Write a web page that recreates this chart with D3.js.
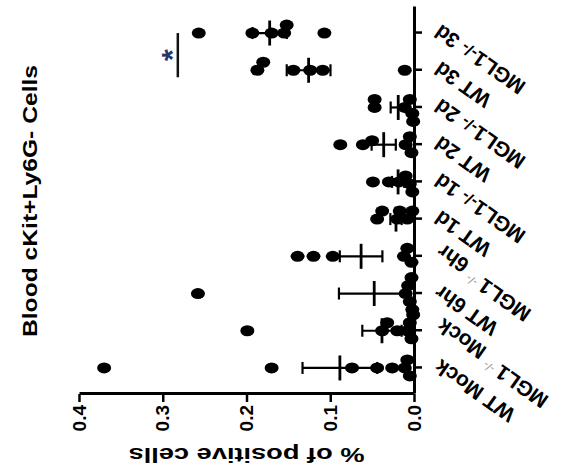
<!DOCTYPE html>
<html><head><meta charset="utf-8">
<script src="https://cdn.jsdelivr.net/npm/d3@7"></script>
<style>html,body{margin:0;padding:0;background:#fff}svg{display:block}</style>
</head><body><svg id="c" width="561" height="468"></svg>
<script>
// ---- data ----
const title = "Blood cKit+Ly6G- Cells";
const yTitle = "% of positive cells";
const categories = ["WT Mock","MGL1-/- Mock","WT 6hr","MGL1-/- 6hr","WT 1d","MGL1-/- 1d","WT 2d","MGL1-/- 2d","WT 3d","MGL1-/- 3d"];
const valueTicks = [0, 0.1, 0.2, 0.3, 0.4];
const wtMock  = [0.370, 0.170, 0.074, 0.044, 0.026, 0.011, 0.008, 0.005];
const mglMock = [0.199, 0.038, 0.032, 0.020, 0.008, 0.005, 0.003, 0.001];
const wt6hr   = [0.258, 0.010, 0.007, 0.005, 0.003, 0.002];
const mgl6hr  = [0.139, 0.120, 0.097, 0.012, 0.008, 0.003];
const wt1d    = [0.044, 0.038, 0.020, 0.017, 0.008, 0.002];
const mgl1d   = [0.049, 0.030, 0.018, 0.010, 0.005, 0.002];
const wt2d    = [0.088, 0.061, 0.050, 0.010, 0.005, 0.003];
const mgl2d   = [0.047, 0.047, 0.011, 0.005, 0.002, 0.001];
const wt3d    = [0.187, 0.180, 0.144, 0.124, 0.109, 0.011];
const mgl3d   = [0.257, 0.193, 0.170, 0.155, 0.152, 0.107];
const groups = [wtMock, mglMock, wt6hr, mgl6hr, wt1d, mgl1d, wt2d, mgl2d, wt3d, mgl3d];
const sigPair = ["WT 3d", "MGL1-/- 3d"];
const sigLevel = 0.282;
const sigMark = "*";

// ---- layout (drawn in un-rotated frame, then rotated -90deg) ----
const FONT = "'Liberation Sans', Arial, sans-serif";
const svg = d3.select("#c");
const g = svg.append("g").attr("transform", `translate(0,${468}) rotate(-90)`);

const x = d3.scalePoint().domain(categories).range([74, 461]).padding(0.7);
const y = d3.scaleLinear().domain([0, 0.4]).range([414, 79]);

// axes
const yAxis = g.append("g").attr("transform", "translate(74,0)")
  .call(d3.axisLeft(y).tickValues(valueTicks).tickFormat(d3.format(".1f")).tickSize(8).tickSizeOuter(0).tickPadding(3));
const xAxis = g.append("g").attr("transform", "translate(0,414)")
  .call(d3.axisBottom(x).tickSize(8).tickSizeOuter(0).tickFormat(""));
[yAxis, xAxis].forEach(a => {
  a.select(".domain").attr("stroke", "#000").attr("stroke-width", 3);
  a.selectAll(".tick line").attr("stroke", "#000").attr("stroke-width", 2.5);
});
yAxis.selectAll(".tick text").attr("font-family", FONT).attr("font-weight", "bold")
  .attr("font-size", 19).attr("fill", "#000");

// category labels
xAxis.selectAll(".tick").each(function(d) {
  const t = d3.select(this).append("text")
    .attr("transform", "translate(3,23) rotate(-55)")
    .attr("text-anchor", "end").attr("dy", "0.35em")
    .attr("font-family", FONT).attr("font-weight", "bold").attr("font-size", 21).attr("fill", "#000");
  const parts = d.split("-/-");
  if (parts.length === 2) {
    const small = /Mock|6hr/.test(parts[1]);
    t.append("tspan").text(parts[0]);
    if (small) {
      t.append("tspan").text(" -/-").attr("font-size", 12).attr("fill", "#9a9a9a").attr("font-weight", "normal").attr("dy", "-0.5em");
      t.append("tspan").text(parts[1]).attr("dy", "0.5em");
    } else {
      t.append("tspan").text("-/-").attr("font-size", 17);
      t.append("tspan").text(parts[1]);
    }
  } else {
    t.text(d);
  }
});

// dots (simple deterministic swarm)
const RX = 5.5, RY = 7;
function swarm(vals, cx) {
  const placed = [];
  const order = vals.map(v => v).sort((a, b) => b - a);
  order.forEach(v => {
    const cy = y(v);
    let off = 0;
    for (let k = 0; k < 60; k++) {
      const cand = k === 0 ? 0 : (k % 2 ? 1 : -1) * Math.ceil(k / 2) * 2;
      const ok = placed.every(q => {
        const dx = (cand - q.off) / (2 * RX), dy = (cy - q.cy) / (2 * RY);
        return dx * dx + dy * dy >= 0.5;
      });
      if (ok) { off = cand; break; }
    }
    placed.push({ v, cy, off, cx: cx + off });
  });
  return placed;
}
const dots = [];
groups.forEach((vals, i) => swarm(vals, x(categories[i])).forEach(p => dots.push(p)));
g.append("g").selectAll("ellipse").data(dots).join("ellipse")
  .attr("cx", d => d.cx).attr("cy", d => d.cy).attr("rx", RX).attr("ry", RY).attr("fill", "#000");

// mean +/- SEM
const stats = groups.map((vals, i) => {
  const m = d3.mean(vals), s = d3.deviation(vals) / Math.sqrt(vals.length);
  return { c: categories[i], m, s };
});
const eb = g.append("g").attr("stroke", "#000").attr("fill", "none");
stats.forEach(st => {
  const cx = x(st.c);
  eb.append("line").attr("x1", cx - 12.5).attr("x2", cx + 12.5).attr("y1", y(st.m)).attr("y2", y(st.m)).attr("stroke-width", 2.8);
  eb.append("line").attr("x1", cx).attr("x2", cx).attr("y1", y(st.m - st.s)).attr("y2", y(st.m + st.s)).attr("stroke-width", 2.2);
  [st.m - st.s, st.m + st.s].forEach(v =>
    eb.append("line").attr("x1", cx - 6).attr("x2", cx + 6).attr("y1", y(v)).attr("y2", y(v)).attr("stroke-width", 2.2));
});

// significance
const sx1 = x(sigPair[0]) - 7, sx2 = x(sigPair[1]);
g.append("line").attr("x1", sx1).attr("x2", sx2).attr("y1", y(sigLevel)).attr("y2", y(sigLevel))
  .attr("stroke", "#111").attr("stroke-width", 2.5);
g.append("text").attr("x", (sx1 + sx2) / 2).attr("y", y(sigLevel) - 18)
  .attr("text-anchor", "middle").attr("dy", "0.75em")
  .attr("font-family", FONT).attr("font-weight", "bold").attr("font-size", 30).attr("fill", "#26366a")
  .text(sigMark);

// titles
g.append("text").attr("x", 267).attr("y", 30).attr("dy", "0.35em").attr("text-anchor", "middle")
  .attr("font-family", FONT).attr("font-weight", "bold").attr("font-size", 21)
  .attr("textLength", 272).attr("lengthAdjust", "spacingAndGlyphs").text(title);
g.append("text").attr("transform", `translate(13,${(y(0) + y(0.4)) / 2}) rotate(-90)`)
  .attr("dy", "0.35em").attr("text-anchor", "middle")
  .attr("font-family", FONT).attr("font-weight", "bold").attr("font-size", 20)
  .attr("textLength", 236).attr("lengthAdjust", "spacingAndGlyphs").text(yTitle);
</script>
</body></html>
